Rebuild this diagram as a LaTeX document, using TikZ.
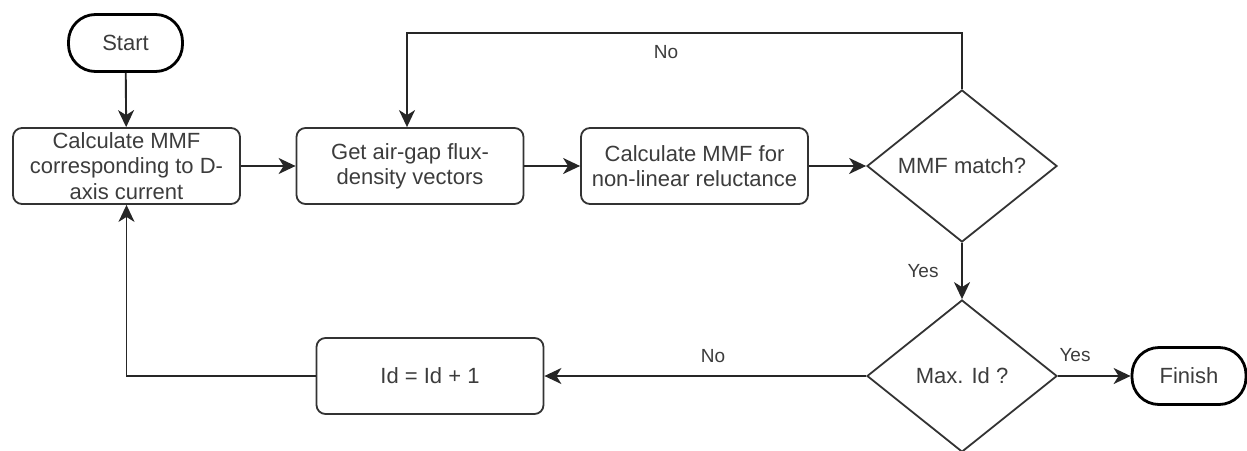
\documentclass[tikz,border=0pt]{standalone}
\usepackage{fontspec}
\setmainfont{Liberation Sans}
\usetikzlibrary{shapes.geometric,arrows.meta}
\definecolor{ink}{RGB}{51,51,51}
\definecolor{txt}{RGB}{60,60,60}
\tikzset{
  procbox/.style={draw=ink, line width=1.8pt, rounded corners=9pt, minimum width=227pt, minimum height=76pt, align=center, inner sep=0pt, text=txt, font=\fontsize{22}{25.3}\selectfont},
  termbox/.style={draw=black, line width=2.8pt, rounded corners=27pt, minimum width=114pt, minimum height=57pt, inner sep=0pt, text=txt, font=\fontsize{22}{25.3}\selectfont},
  decbox/.style={draw=ink, line width=1.8pt, diamond, aspect=1.25, minimum width=190pt, minimum height=152pt, inner sep=0pt, text=txt, font=\fontsize{22}{25.3}\selectfont},
  arr/.style={draw=black!85, line width=1.9pt, -{Stealth[length=17pt,width=16pt,inset=5pt]}},
  lbl/.style={text=txt, font=\fontsize{19}{22}\selectfont, inner sep=0pt}
}
\begin{document}
\begin{tikzpicture}[x=1pt,y=-1pt]
\useasboundingbox (0,0) rectangle (1247,450);
\clip (0,0) rectangle (1247,450);
\node[termbox] (start) at (125.5,43) {Start};
\node[procbox] (b1) at (126.5,166) {Calculate MMF\\corresponding to D-\\axis current};
\node[procbox] (b2) at (410,166) {Get air-gap flux-\\density vectors};
\node[procbox] (b3) at (694.5,166) {Calculate MMF for\\non-linear reluctance};
\node[decbox] (d1) at (962,166) {MMF match?};
\node[decbox] (d2) at (962,376) {Max. Id ?};
\node[termbox] (fin) at (1189,376) {Finish};
\node[procbox] (b4) at (430,376) {Id = Id + 1};
\coordinate (tl) at (407,33);
\node[lbl] (lno1) at (666,52) {No};
\node[lbl] (lyes1) at (923,271) {Yes};
\node[lbl] (lyes2) at (1075,355) {Yes};
\node[lbl] (lno2) at (713,356) {No};
\draw[arr] (start) -- (b1);
\draw[arr] (b1) -- (b2);
\draw[arr] (b2) -- (b3);
\draw[arr] (b3) -- (d1);
\draw[arr] (d1.north) |- (tl) -- (tl |- b2.north);
\draw[arr] (d1.south) -- (d2.north);
\draw[arr] (d2.east) -- (fin.west);
\draw[arr] (d2.west) -- (b4.east);
\draw[arr] (b4.west) -| (b1.south);
\end{tikzpicture}
\end{document}
